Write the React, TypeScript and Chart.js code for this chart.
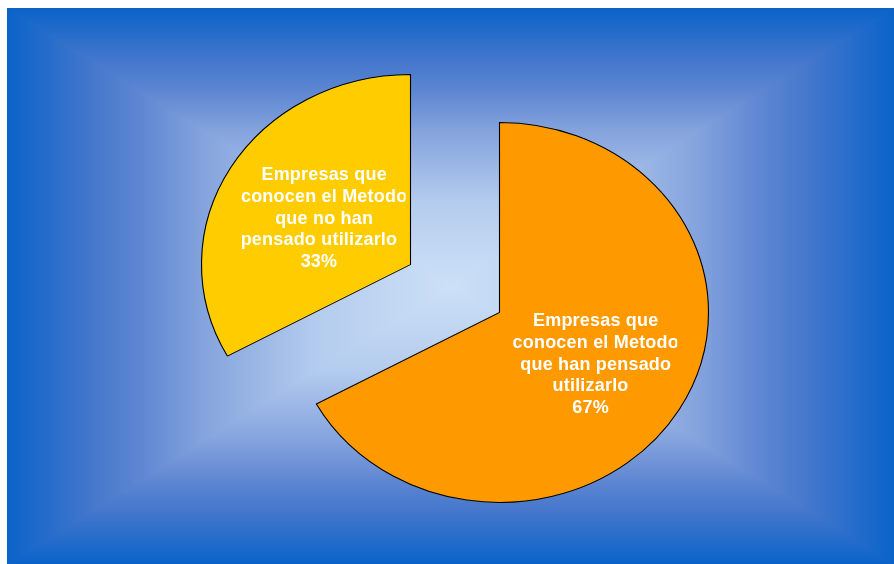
import { useEffect, useRef } from "react";
import { Chart, registerables } from "chart.js";

Chart.register(...registerables);

// ---- data ----
const CATEGORIES = [
  "Empresas que conocen el Metodo que han pensado utilizarlo",
  "Empresas que conocen el Metodo que no han pensado utilizarlo",
];
const VALUES = [67, 33];
const COLORS = ["#FF9900", "#FFCC00"];
const LABEL_LINES = [
  ["Empresas que", "conocen el Metodo", "que han pensado", "utilizarlo  "],
  ["Empresas que", "conocen el Metodo", "que no han", "pensado utilizarlo  "],
];

// ---- styling constants ----
const W = 894;
const H = 564;
const RADIUS = 190;
const STRETCH_X = 1.1;
const EXPLODE = 47;
const LABEL_FACTOR = [0.535, 0.48];
const FONT = "bold 18px 'Liberation Sans', Arial, sans-serif";
const LINE_H = 21.8;
const BG_BOX = { x0: 7, y0: 8, x1: 894, y1: 564 };
const BG_STOPS: [number, [number, number, number]][] = [
  [0, [204, 224, 246]],
  [0.3, [180, 204, 238]],
  [0.56, [132, 163, 221]],
  [0.7, [94, 134, 210]],
  [0.81, [68, 119, 204]],
  [1, [10, 99, 201]],
];

let bgCache: HTMLCanvasElement | null = null;
function makeBackground(): HTMLCanvasElement {
  if (bgCache) return bgCache;
  const { x0, y0, x1, y1 } = BG_BOX;
  const w = x1 - x0;
  const h = y1 - y0;
  const c = document.createElement("canvas");
  c.width = w;
  c.height = h;
  const cctx = c.getContext("2d")!;
  const img = cctx.createImageData(w, h);
  const hw = w / 2;
  const hh = h / 2;
  for (let y = 0; y < h; y++) {
    for (let x = 0; x < w; x++) {
      const t = Math.min(1, Math.max(Math.abs(x + 0.5 - hw) / hw, Math.abs(y + 0.5 - hh) / hh));
      let k = 0;
      while (k < BG_STOPS.length - 2 && t > BG_STOPS[k + 1][0]) k++;
      const [ta, ca] = BG_STOPS[k];
      const [tb, cb] = BG_STOPS[k + 1];
      const f = Math.min(1, Math.max(0, (t - ta) / (tb - ta)));
      const i = (y * w + x) * 4;
      img.data[i] = ca[0] + (cb[0] - ca[0]) * f;
      img.data[i + 1] = ca[1] + (cb[1] - ca[1]) * f;
      img.data[i + 2] = ca[2] + (cb[2] - ca[2]) * f;
      img.data[i + 3] = 255;
    }
  }
  cctx.putImageData(img, 0, 0);
  bgCache = c;
  return c;
}

const piePlugin = {
  id: "excelPie",
  beforeDraw(chart: any) {
    const ctx = chart.ctx;
    ctx.save();
    ctx.fillStyle = "#ffffff";
    ctx.fillRect(0, 0, W, H);
    ctx.drawImage(makeBackground(), BG_BOX.x0, BG_BOX.y0);
    ctx.restore();
  },
  beforeDatasetsDraw(chart: any) {
    const ctx = chart.ctx;
    const meta = chart.getDatasetMeta(0);
    meta.data.forEach((arc: any) => {
      const { x, y, startAngle, endAngle } = arc.getProps(["x", "y", "startAngle", "endAngle"], true);
      const mid = (startAngle + endAngle) / 2;
      ctx.save();
      ctx.translate(x, y);
      ctx.scale(STRETCH_X, 1);
      ctx.translate(Math.cos(mid) * EXPLODE, Math.sin(mid) * EXPLODE);
      ctx.translate(-x, -y);
      arc.draw(ctx);
      ctx.restore();
    });
    return false;
  },
  afterDraw(chart: any) {
    const ctx = chart.ctx;
    const meta = chart.getDatasetMeta(0);
    const total = VALUES.reduce((a, b) => a + b, 0);
    meta.data.forEach((arc: any, i: number) => {
      const { x, y, startAngle, endAngle, outerRadius } = arc.getProps(
        ["x", "y", "startAngle", "endAngle", "outerRadius"],
        true
      );
      const mid = (startAngle + endAngle) / 2;
      const r = EXPLODE + outerRadius * LABEL_FACTOR[i];
      const cx = x + Math.cos(mid) * r * STRETCH_X;
      const cy = y + Math.sin(mid) * r - 1;
      const pct = Math.round((VALUES[i] / total) * 100) + "%  ";
      const lines = [...LABEL_LINES[i], pct];
      ctx.save();
      ctx.beginPath();
      ctx.rect(cx - 85, cy - 80, 166.5, 160);
      ctx.clip();
      ctx.font = FONT;
      try {
        (ctx as any).letterSpacing = "0.2px";
      } catch (e) {}
      ctx.fillStyle = "#ffffff";
      ctx.textAlign = "center";
      ctx.textBaseline = "alphabetic";
      const capH = 18 * 0.716;
      lines.forEach((line, j) => {
        const ly = cy + (j - (lines.length - 1) / 2) * LINE_H + capH / 2;
        ctx.fillText(line, cx, ly);
      });
      ctx.restore();
    });
  },
};

export default function App() {
  const ref = useRef<HTMLCanvasElement>(null);
  useEffect(() => {
    const chart = new Chart(ref.current!, {
      type: "pie",
      data: {
        labels: CATEGORIES,
        datasets: [
          {
            data: VALUES,
            backgroundColor: COLORS,
            borderColor: "#000000",
            borderWidth: 1,
            borderJoinStyle: "miter",
            radius: RADIUS,
          } as any,
        ],
      },
      options: {
        responsive: false,
        maintainAspectRatio: false,
        animation: false,
        events: [],
        layout: { padding: { left: 16, top: 13, right: 0, bottom: 0 } },
        plugins: {
          legend: { display: false },
          tooltip: { enabled: false },
        },
      },
      plugins: [piePlugin],
    });
    return () => chart.destroy();
  }, []);
  return (
    <div style={{ position: "fixed", left: 0, top: 0, width: W, height: H }}>
      <canvas ref={ref} width={W} height={H} style={{ display: "block", width: W, height: H }} />
    </div>
  );
}
